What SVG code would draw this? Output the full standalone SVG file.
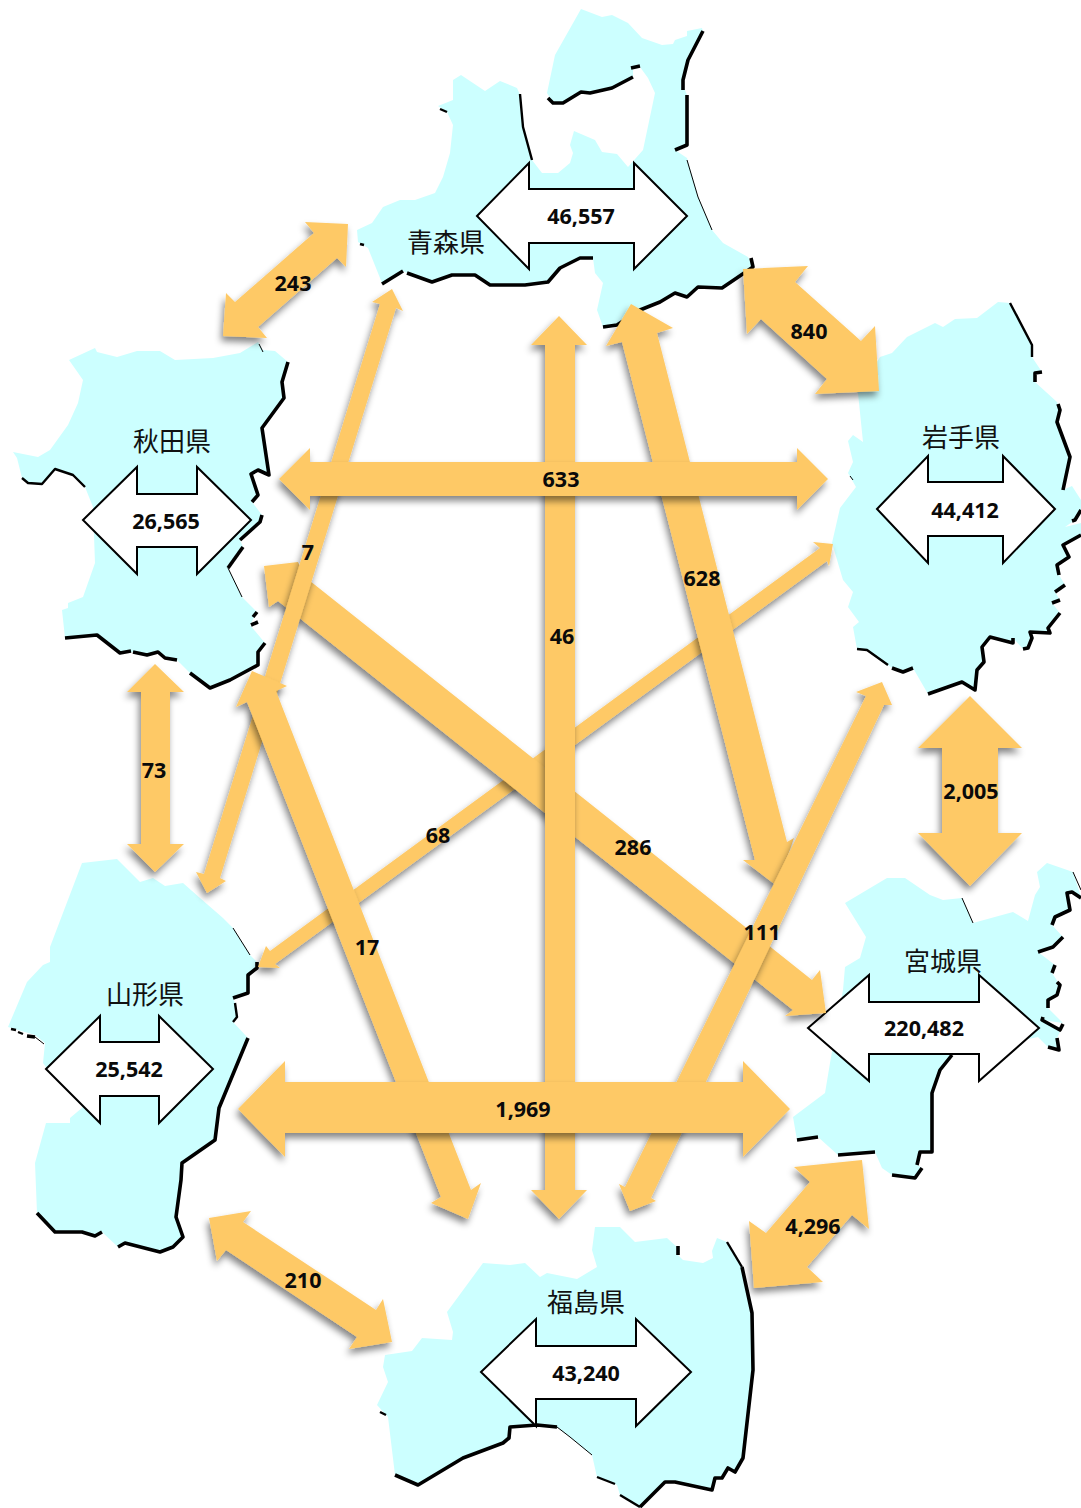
<svg xmlns="http://www.w3.org/2000/svg" width="1081" height="1508" viewBox="0 0 1081 1508">
<defs>
<filter id="sh" x="-25%" y="-25%" width="150%" height="150%"><feDropShadow dx="-2" dy="5" stdDeviation="3.5" flood-color="#000" flood-opacity="0.48"/></filter>
</defs>
<style>
.land{fill:#ccffff;stroke:none}
.e{fill:none;stroke:#000;stroke-linejoin:round;stroke-linecap:butt}
.a{stroke-width:1}.b{stroke-width:2.4}.c{stroke-width:3.6}
.flow{fill:#fec966;filter:url(#sh)}
.box{fill:#fff;stroke:#000;stroke-width:2;stroke-linejoin:miter}
.n{font-family:"Noto Sans",sans-serif;font-weight:700;font-size:21.5px;text-anchor:middle;fill:#0a0a0a}
.p{font-family:"Noto Sans CJK JP","Noto Sans",sans-serif;font-size:26px;text-anchor:middle;fill:#111}
</style>
<rect width="1081" height="1508" fill="#fff"/>

<g id="aomori">
<polygon class="land" points="581,9 602,17 612,15 628,23 642,38 662,45 673,44 675,40 687,36 687,31 702,28 703,32 688,60 683,80 685,90 687,95 687,145 675,150 687,158 698,197 712,230 723,243 748,257 753,267 722,288 698,287 687,297 675,293 660,302 617,325 603,327 597,310 603,283 595,273 593,258 580,258 560,268 548,282 525,285 490,285 475,275 452,275 432,282 407,273 403,271 382,283 368,248 358,242 357,230 372,223 383,207 400,200 415,200 435,193 443,177 450,153 453,125 447,112 438,106 453,100 453,80 461,75 485,91 500,81 517,88 521,97 523,127 532,160 542,173 558,173 570,163 573,153 570,145 574,131 595,140 602,152 617,154 628,167 643,150 655,93 648,78 640,67 633,68 633,77 612,88 590,93 581,92 563,103 553,103 547,93 555,55"/>
<polyline class="e c" points="703,31 688,60 683,80 683,90"/>
<polyline class="e c" points="687,95 687,145 675,150"/>
<polyline class="e a" points="687,160 698,197 712,230"/>
<polyline class="e c" points="751,258 753,267 722,288 698,287 687,297 675,293 660,302 640,310 617,325 603,327"/>
<polyline class="e b" points="520,94 523,127 532,160"/>
<polyline class="e c" points="403,271 382,284"/>
<polyline class="e c" points="407,273 432,282 452,275 475,275 490,285 525,285 548,282 560,268 580,258 593,258"/>
<polyline class="e c" points="631,68 640,66"/>
<polyline class="e c" points="633,77 612,88 590,93 581,92 563,103 553,103 548,98"/>
<polyline class="e b" points="440,109 447,112"/>
<polyline class="e b" points="360,244 364,245"/>
<polygon class="box" points="477,216 529,163 529,189 634,189 634,163 687,216 634,269 634,243 529,243 529,269"/>
<text class="n" x="581" y="224">46,557</text>
<text class="p" x="446" y="252">青森県</text>
</g>

<g id="akita">
<polygon class="land" points="69,360 95,348 97,352 117,357 137,351 160,351 175,360 213,358 240,353 258,342 263,350 275,351 288,362 282,382 284,398 262,428 269,475 258,470 251,474 258,495 252,502 262,515 260,522 240,540 243,547 228,568 242,597 257,612 250,625 265,643 258,652 258,665 230,680 210,688 190,673 177,660 165,658 158,652 147,655 133,652 120,653 97,635 65,638 62,610 68,608 68,603 83,597 95,563 93,507 85,487 73,475 55,469 42,484 28,483 22,478 17,458 13,452 38,457 50,450 68,425 78,403 83,380"/>
<polyline class="e a" points="259,344 263,352"/>
<polyline class="e c" points="288,362 282,382 284,398 262,428 269,475 258,470 251,474 258,495 252,502"/>
<polyline class="e c" points="262,515 260,522 240,540"/>
<polyline class="e c" points="243,547 228,568"/>
<polyline class="e a" points="228,568 242,597"/>
<polyline class="e c" points="257,612 253,617"/>
<polyline class="e c" points="251,625 258,622"/>
<polyline class="e c" points="265,643 258,652 258,665 230,680 210,688 190,673"/>
<polyline class="e c" points="177,660 165,658 158,652 147,655 133,652"/>
<polyline class="e c" points="131,651 120,653 97,635 65,638"/>
<polyline class="e b" points="22,478 28,483 42,484 55,469 73,475 85,487"/>
<polygon class="box" points="83,520 137,467 137,494 197,494 197,467 251,520 197,574 197,547 137,547 137,574"/>
<text class="n" x="166" y="529">26,565</text>
<text class="p" x="172" y="451">秋田県</text>
</g>

<g id="iwate">
<polygon class="land" points="998,302 1010,303 1032,345 1032,357 1042,372 1035,373 1035,382 1057,402 1060,410 1057,422 1070,457 1063,490 1072,486 1081,500 1081,513 1075,520 1065,527 1081,523 1081,535 1063,545 1069,557 1057,565 1059,575 1065,585 1055,592 1060,600 1052,603 1060,613 1048,628 1050,633 1030,632 1032,638 1028,648 1023,649 1013,638 1013,643 990,637 982,647 984,662 977,670 975,690 962,682 928,694 913,668 903,672 892,668 888,665 867,650 857,649 853,627 859,622 848,607 853,592 843,580 832,543 840,508 856,487 848,473 853,462 848,441 853,435 863,442 858,393 880,357 892,353 907,337 935,323 943,327 955,319 977,318"/>
<polyline class="e b" points="1010,303 1032,345 1032,357"/>
<polyline class="e c" points="1042,372 1035,373 1035,382"/>
<polyline class="e c" points="1058,404 1060,410 1057,422 1070,457 1063,490"/>
<polyline class="e c" points="1081,510 1075,520 1072,521"/>
<polyline class="e c" points="1081,535 1063,545 1069,557 1057,565 1059,575"/>
<polyline class="e c" points="1065,585 1055,592"/>
<polyline class="e c" points="1060,600 1052,603"/>
<polyline class="e c" points="1060,613 1048,628 1050,633 1030,632 1032,638 1028,648 1023,649"/>
<polyline class="e c" points="1013,638 1013,643 990,637 982,647 984,662 977,670 975,690 962,682 928,694"/>
<polyline class="e c" points="913,668 903,672 892,668"/>
<polyline class="e b" points="888,665 867,650 857,649"/>
<polyline class="e a" points="850,476 853,480"/>
<polygon class="box" points="877,509 928,456 928,482 1003,482 1003,456 1055,509 1003,563 1003,536 928,536 928,563"/>
<text class="n" x="965" y="518">44,412</text>
<text class="p" x="961" y="447">岩手県</text>
</g>

<g id="miyagi">
<polygon class="land" points="845,903 887,878 905,878 930,895 943,900 962,898 973,923 1013,912 1028,921 1035,895 1040,887 1037,872 1047,863 1073,872 1081,897 1070,893 1067,893 1070,910 1055,917 1052,925 1063,937 1053,947 1038,952 1055,965 1052,973 1060,985 1057,995 1048,1000 1048,1008 1063,1023 1042,1020 1060,1032 1057,1038 1059,1050 1048,1047 1038,1037 952,1055 940,1070 932,1093 932,1152 920,1152 917,1165 922,1168 915,1178 892,1175 882,1168 875,1152 838,1155 818,1137 797,1140 793,1117 825,1093 830,1063 843,990 845,967 860,958 866,937"/>
<polyline class="e a" points="962,898 973,923"/>
<polyline class="e a" points="1073,872 1081,890"/>
<polyline class="e c" points="1081,898 1072,892 1067,893 1070,910 1055,917 1052,925"/>
<polyline class="e c" points="1063,937 1053,947 1038,952"/>
<polyline class="e c" points="1055,965 1052,973"/>
<polyline class="e c" points="1057,982 1060,985 1057,995 1048,1000 1048,1008"/>
<polyline class="e c" points="1043,1017 1042,1020 1060,1030 1063,1024"/>
<polyline class="e c" points="1057,1038 1059,1050 1048,1047"/>
<polyline class="e c" points="952,1055 940,1070 932,1093 932,1152 920,1152 917,1165"/>
<polyline class="e c" points="922,1168 915,1178 892,1175"/>
<polyline class="e c" points="875,1152 838,1155"/>
<polyline class="e c" points="818,1137 797,1140"/>
<polygon class="box" points="808,1028 869,975 869,1002 979,1002 979,975 1039,1028 979,1081 979,1054 869,1054 869,1081"/>
<text class="n" x="924" y="1036">220,482</text>
<text class="p" x="943" y="971">宮城県</text>
</g>

<g id="yamagata">
<polygon class="land" points="82,863 117,859 140,882 153,878 165,886 183,883 200,898 223,918 233,928 250,955 257,962 257,968 248,975 248,993 233,998 235,1003 237,1017 233,1022 248,1038 219,1108 215,1140 182,1163 176,1217 183,1237 173,1247 160,1252 125,1243 118,1247 102,1232 95,1236 82,1232 55,1232 37,1213 35,1163 46,1123 70,1123 70,1118 83,1107 50,1073 43,1063 45,1043 35,1035 8,1027 27,982 43,965 50,962 50,947"/>
<polyline class="e a" points="233,928 250,955"/>
<polyline class="e c" points="257,962 257,968 248,975 248,993 233,998"/>
<polyline class="e b" points="235,1003 237,1017 233,1022"/>
<polyline class="e c" points="248,1038 219,1108 215,1140 182,1163 181,1180 176,1217 183,1237 173,1247 160,1252 125,1243 118,1247"/>
<polyline class="e c" points="102,1232 95,1236 82,1232 55,1232 37,1213"/>
<polyline class="e b" points="11,1029 16,1030"/>
<polyline class="e b" points="18,1032 23,1034"/>
<polyline class="e c" points="27,1036 35,1037"/>
<polyline class="e a" points="35,1037 44,1044"/>
<polygon class="box" points="46,1069 100,1016 100,1042 159,1042 159,1016 213,1069 159,1123 159,1096 100,1096 100,1123"/>
<text class="n" x="129" y="1077">25,542</text>
<text class="p" x="145" y="1004">山形県</text>
</g>

<g id="fukushima">
<polygon class="land" points="595,1227 620,1227 635,1242 667,1238 678,1248 678,1255 683,1260 703,1263 713,1258 712,1251 717,1238 727,1242 742,1267 752,1313 753,1370 743,1458 735,1472 728,1468 722,1478 715,1478 712,1490 675,1482 665,1482 640,1507 620,1495 617,1485 597,1477 592,1455 570,1437 557,1427 537,1425 510,1427 509,1438 503,1443 463,1458 418,1485 395,1475 388,1417 377,1405 388,1382 383,1367 385,1355 412,1351 422,1338 452,1340 453,1332 447,1312 483,1263 510,1265 525,1263 540,1277 547,1273 577,1279 597,1267 592,1250"/>
<polyline class="e c" points="678,1246 678,1255"/>
<polyline class="e b" points="727,1242 742,1267"/>
<polyline class="e c" points="742,1267 752,1313 753,1370 743,1458 735,1472 728,1468 722,1478 715,1478 712,1490 675,1482 665,1482 640,1507"/>
<polyline class="e b" points="597,1477 615,1484"/>
<polyline class="e b" points="620,1495 640,1507"/>
<polyline class="e a" points="592,1455 570,1437 557,1427"/>
<polyline class="e c" points="557,1427 537,1425 510,1427 509,1438 503,1443 463,1458 418,1485 395,1475"/>
<polyline class="e b" points="380,1412 386,1415"/>
<polygon class="box" points="481,1372 536,1319 536,1346 636,1346 636,1319 691,1372 636,1426 636,1399 536,1399 536,1426"/>
<text class="n" x="586" y="1381">43,240</text>
<text class="p" x="586" y="1312">福島県</text>
</g>

<g id="connectors">
<polygon class="flow" points="833,544 813,542 820,548 270,951 266,946 258,967 280,968 275,964 827,561 829,566"/>
<polygon class="flow" points="264,566 298,562 305,577 812,980 820,970 826,1013 785,1016 793,1010 278,601 269,607"/>
<polygon class="flow" points="392,289 403,311 396,308 220,878 226,881 207,893 196,872 204,874 380,304 372,302"/>
<polygon class="flow" points="252,671 287,686 276,691 471,1190 481,1183 468,1219 431,1203 441,1197 247,702 236,707"/>
<polygon class="flow" points="631,304 673,328 657,333 787,842 794,838 777,886 743,860 755,860 622,342 606,346"/>
<polygon class="flow" points="882,682 892,705 884,705 651,1198 656,1201 630,1211 619,1184 625,1187 866,696 856,692"/>
<polygon class="flow" points="559,316 587,345 575,345 575,1190 587,1190 559,1219 531,1190 545,1190 545,345 531,345"/>
<polygon class="flow" points="279,479 310,448 310,462 797,462 797,448 828,479 797,510 797,496 310,496 310,510"/>
<polygon class="flow" points="238,1109 285,1061 285,1082 743,1082 743,1061 790,1109 743,1157 743,1133 285,1133 285,1157"/>
<polygon class="flow" points="155,664 184,692 170,692 170,844 184,844 155,872 127,844 141,844 141,692 127,692"/>
<polygon class="flow" points="970,696 1022,748 998,748 998,833 1022,833 970,886 918,833 942,833 942,748 918,748"/>
<polygon class="flow" points="348,224 305,222 314,233 235,302 226,293 223,336 267,338 258,327 337,258 346,267"/>
<polygon class="flow" points="743,269 808,266 795,282 861,341 875,326 879,391 815,394 827,379 761,319 747,334"/>
<polygon class="flow" points="209,1218 251,1211 243,1222 376,1310 383,1299 392,1342 349,1349 357,1337 226,1250 217,1261"/>
<polygon class="flow" points="862,1160 794,1167 810,1182 766,1233 749,1221 754,1288 823,1282 807,1267 852,1215 869,1229"/>
<text class="n" x="293" y="291">243</text>
<text class="n" x="809" y="339">840</text>
<text class="n" x="561" y="487">633</text>
<text class="n" x="562" y="644">46</text>
<text class="n" x="702" y="586">628</text>
<text class="n" x="308" y="560">7</text>
<text class="n" x="438" y="843">68</text>
<text class="n" x="633" y="855">286</text>
<text class="n" x="367" y="955">17</text>
<text class="n" x="762" y="940">111</text>
<text class="n" x="154" y="778">73</text>
<text class="n" x="971" y="799">2,005</text>
<text class="n" x="523" y="1117">1,969</text>
<text class="n" x="813" y="1234">4,296</text>
<text class="n" x="303" y="1288">210</text>
</g>
</svg>
